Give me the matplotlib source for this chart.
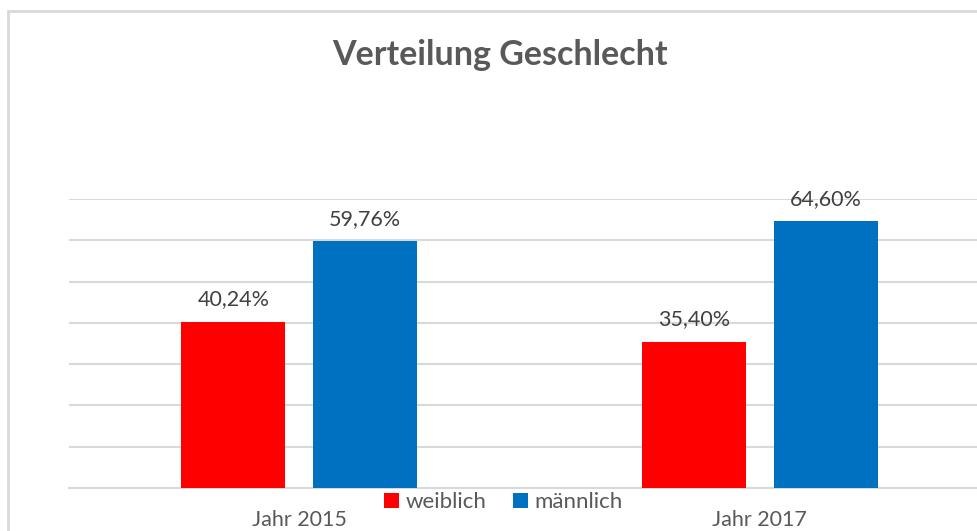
import matplotlib
matplotlib.use("Agg")
import matplotlib.pyplot as plt
from matplotlib.patches import Rectangle
import numpy as np

plt.rcParams['font.family'] = ['Lato', 'DejaVu Sans']

jahre = ["Jahr 2015", "Jahr 2017"]
serien = ["weiblich", "männlich"]
weiblich = [40.24, 35.40]
maennlich = [59.76, 64.60]
farben = ["#ff0000", "#0070c0"]

fig = plt.figure(figsize=(9.78, 5.31), dpi=100)
# chart border (partly cut off like the original screenshot)
fig.patches.append(Rectangle((8 / 978, -0.1), 1.2, 1 - 11 / 531 + 0.1,
                             transform=fig.transFigure, fill=False,
                             edgecolor="#d9d9d9", linewidth=2))

ax = fig.add_axes([69 / 978, 1 - 488 / 531, (990 - 69) / 978, (488 - 199) / 531])

x = np.arange(len(jahre))
breite = 0.226
versatz = 0.143
b1 = ax.bar(x - versatz, weiblich, breite, color=farben[0], label=serien[0], zorder=3)
b2 = ax.bar(x + versatz, maennlich, breite, color=farben[1], label=serien[1], zorder=3)

for bars in (b1, b2):
    for b in bars:
        h = b.get_height()
        ax.annotate(f"{h:.2f}%".replace(".", ","), (b.get_x() + b.get_width() / 2, h),
                    xytext=(0, 9), textcoords="offset points", ha="center",
                    va="bottom", fontsize=15.5, color="#404040")

ax.set_xlim(-0.5, 1.5)
ax.set_ylim(0, 70)
ax.set_yticks(np.arange(0, 71, 10))
ax.yaxis.grid(True, color="#d9d9d9", linewidth=1.5, zorder=0)
ax.tick_params(axis="y", left=False, labelleft=False)
ax.tick_params(axis="x", bottom=False, pad=12)
ax.set_xticks(x)
ax.set_xticklabels(jahre, fontsize=15.5, color="#595959")
for s in ["top", "right", "left"]:
    ax.spines[s].set_visible(False)
ax.spines["bottom"].set_color("#d9d9d9")
ax.spines["bottom"].set_linewidth(1.5)

fig.legend(loc="center", bbox_to_anchor=(503.5 / 978, 1 - 502 / 531), ncol=2,
           frameon=False, fontsize=16, handlelength=0.65, handleheight=0.65,
           handletextpad=0.3, columnspacing=1.2, labelcolor="#595959")

fig.text(499.5 / 978, 1 - 55 / 531, "Verteilung Geschlecht", ha="center", va="center",
         fontsize=24.5, fontweight="bold", color="#595959")

fig.savefig("out.png", dpi=100)
